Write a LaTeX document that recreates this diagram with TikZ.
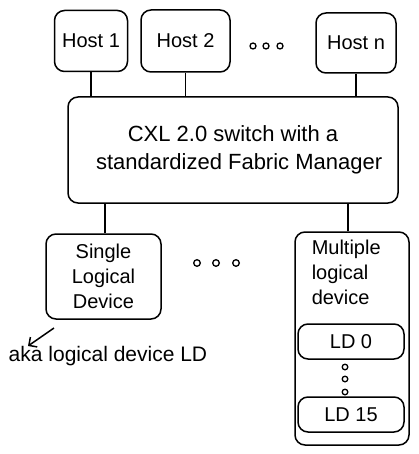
\documentclass[tikz,border=0pt]{standalone}
\usepackage{fontspec}
\setmainfont{Liberation Sans}
\usetikzlibrary{arrows.meta}

\begin{document}
\begin{tikzpicture}[x=1pt,y=-1pt,line width=1.5pt,
  box/.style={draw,rounded corners=10pt,inner sep=0pt,font=\fontsize{20}{25}\selectfont},
  dot/.style={line width=1.3pt}]
  \useasboundingbox (0,0) rectangle (418,454);
  \node[box,minimum width=73,minimum height=61] (host1) at (91,41) {Host 1};
  \node[box,minimum width=89,minimum height=62] (host2) at (185.5,41) {Host 2};
  \node[box,minimum width=80,minimum height=60] (hostn) at (356,43) {Host n};
  \foreach \x in {253,266,280} \draw[dot] (\x,46) circle (3);
  \node[box,minimum width=330,minimum height=106,align=center,
        font=\fontsize{22}{28}\selectfont] (switch) at (233,150)
        {CXL 2.0 switch with a\\\ \ standardized Fabric Manager};
  \draw (host1.south) -- (host1.south |- switch.north);
  \draw (host2.south) -- (host2.south |- switch.north);
  \draw (hostn.south) -- (hostn.south |- switch.north);
  %\tikzstyle{dev}=[]
  \node[box,minimum width=115,minimum height=85,align=center] (sld) at (103.5,276.5)
        {Single\\Logical\\Device};
  \foreach \x in {197,216,236} \draw[dot] (\x,263) circle (3.3);
  \node[box,minimum width=114,minimum height=213] (mld) at (352,338.5) {};
  \node[align=left,anchor=north west,inner sep=0pt,
        font=\fontsize{20}{25}\selectfont] (mldtext) at (311,239)
        {Multiple\\logical\\device};
  \node[box,minimum width=106,minimum height=35] (ld0) at (351,341.5) {LD 0};
  \foreach \y in {367,379,392} \draw[dot] (345,\y) circle (2.8);
  \node[box,minimum width=106,minimum height=35] (ld15) at (351,414.5) {LD 15};
  \draw (sld.north -| 105,0) -- (105,0 |- switch.south);
  \draw (348,0 |- mld.north) -- (348,0 |- switch.south);

  \coordinate (akafrom) at (54,328);
  \coordinate (akato) at (28,346);
  \draw[-{Straight Barb[length=6pt]}] (akafrom) -- (akato);
  \node[anchor=west,inner sep=0pt,font=\fontsize{21}{25}\selectfont] (aka) at (8,356)
        {aka logical device LD};
\end{tikzpicture}
\end{document}
